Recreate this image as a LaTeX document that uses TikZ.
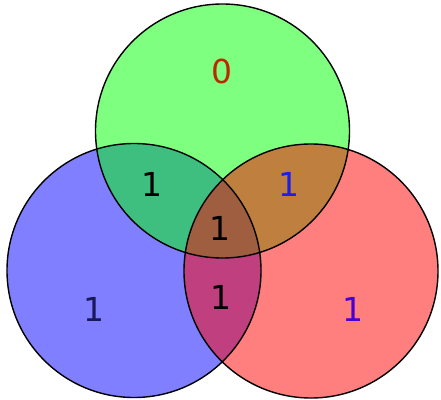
\documentclass[tikz,border=0pt]{standalone}
\usepackage{fontspec}
\setmainfont{DejaVu Sans}
\begin{document}
\begin{tikzpicture}[x=1pt,y=-1pt]
        \tikzset{circle node/.style={circle,draw=black, line width=1.4pt, fill=none, minimum size=254pt, inner sep=0pt},
                 digit/.style={font=\fontsize{33}{38}\selectfont, inner sep=0pt}}
        \useasboundingbox (0,0) rectangle (441,399);
        \fill[blue, fill opacity=0.5] (134,270.5) circle (127pt);
        \fill[green, fill opacity=0.5] (222.5,131) circle (127pt);
        \fill[red, fill opacity=0.5] (311,271) circle (127pt);
        \node[circle node] (left) at (134,270.5) {};
        \node[circle node] (top) at (222.5,131) {};
        \node[circle node] (right) at (311,271) {};
        \node[digit, text={rgb,255:red,190;green,40;blue,0}] (t) at (222,71) {0};
        \node[digit] (lt) at (152,184) {1};
        \node[digit, text={rgb,255:red,30;green,30;blue,230}] (rt) at (289,184) {1};
        \node[digit] (ltr) at (220,228) {1};
        \node[digit] (lr) at (221,297) {1};
        \node[digit, text={rgb,255:red,25;green,25;blue,90}] (l) at (93.5,309) {1};
        \node[digit, text={rgb,255:red,70;green,0;blue,210}] (r) at (352.5,309) {1};
      \end{tikzpicture}
\end{document}
